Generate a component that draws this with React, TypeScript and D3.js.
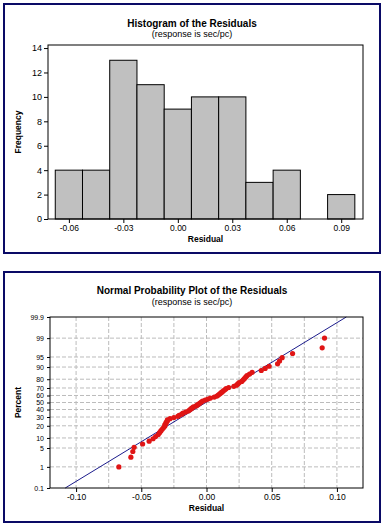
import * as d3 from "d3";
import { useEffect, useRef } from "react";

// histogram: bin midpoints and counts
const binCenters = [-0.06, -0.045, -0.03, -0.015, 0, 0.015, 0.03, 0.045, 0.06, 0.075, 0.09];
const binCounts = [4, 4, 13, 11, 9, 10, 10, 3, 4, 0, 2];
const histXTicks = [-0.06, -0.03, 0, 0.03, 0.06, 0.09];
const freqTicks = [0, 2, 4, 6, 8, 10, 12, 14];

// sorted residuals
const residuals = [
	-0.0672, -0.058, -0.0565, -0.0555,
	-0.049, -0.044, -0.041, -0.039,
	-0.037, -0.036, -0.035, -0.034, -0.033, -0.032, -0.032, -0.031, -0.031, -0.03, -0.03, -0.028, -0.025,
	-0.022, -0.021, -0.019, -0.018, -0.016, -0.014, -0.013, -0.012, -0.011, -0.01, -0.008,
	-0.007, -0.006, -0.005, -0.004, -0.003, -0.001, 0.001, 0.003, 0.006,
	0.008, 0.009, 0.01, 0.011, 0.012, 0.013, 0.014, 0.015, 0.017, 0.021,
	0.023, 0.024, 0.025, 0.027, 0.028, 0.029, 0.03, 0.031, 0.033, 0.035,
	0.042, 0.045, 0.048,
	0.0545, 0.056, 0.058, 0.066,
	0.0887, 0.0905,
];
const pctTicks = [0.1, 1, 5, 10, 20, 30, 40, 50, 60, 70, 80, 90, 95, 99, 99.9];
const resTicks = [-0.1, -0.05, 0, 0.05, 0.1];
const resGrid = [-0.1, -0.075, -0.05, -0.025, 0, 0.025, 0.05, 0.075, 0.1];

const FONT = "'Liberation Sans', Arial, sans-serif";
const NAVY = "#0a0a66";

// inverse standard normal cdf (Acklam)
function probit(p: number) {
	const a = [-39.69683028665376, 220.9460984245205, -275.9285104469687, 138.357751867269, -30.66479806614716, 2.506628277459239];
	const b = [-54.47609879822406, 161.5858368580409, -155.6989798598866, 66.80131188771972, -13.28068155288572];
	const c = [-0.007784894002430293, -0.3223964580411365, -2.400758277161838, -2.549732539343734, 4.374664141464968, 2.938163982698783];
	const d = [0.007784695709041462, 0.3224671290700398, 2.445134137142996, 3.754408661907416];
	const pl = 0.02425;
	if (p < pl) {
		const q = Math.sqrt(-2 * Math.log(p));
		return (((((c[0] * q + c[1]) * q + c[2]) * q + c[3]) * q + c[4]) * q + c[5]) / ((((d[0] * q + d[1]) * q + d[2]) * q + d[3]) * q + 1);
	}
	if (p > 1 - pl) {
		const q = Math.sqrt(-2 * Math.log(1 - p));
		return -(((((c[0] * q + c[1]) * q + c[2]) * q + c[3]) * q + c[4]) * q + c[5]) / ((((d[0] * q + d[1]) * q + d[2]) * q + d[3]) * q + 1);
	}
	const q = p - 0.5;
	const r = q * q;
	return ((((((a[0] * r + a[1]) * r + a[2]) * r + a[3]) * r + a[4]) * r + a[5]) * q) / (((((b[0] * r + b[1]) * r + b[2]) * r + b[3]) * r + b[4]) * r + 1);
}

const fmt2 = (v: number) => (Math.abs(v) < 1e-9 ? "0.00" : d3.format(".2f")(v).replace("−", "-"));

export default function App() {
	const svgRef = useRef<SVGSVGElement>(null);

	useEffect(() => {
		const svg = d3.select(svgRef.current);
		if (!svg.node()) return;
		svg.selectAll("*").remove();

		svg.append("rect").attr("width", 386).attr("height", 527).attr("fill", "#fff");

		// ---------- panel 1: histogram ----------
		svg
			.append("rect")
			.attr("x", 4)
			.attr("y", 4)
			.attr("width", 376)
			.attr("height", 249)
			.attr("fill", "#fff")
			.attr("stroke", NAVY)
			.attr("stroke-width", 2);

		svg
			.append("text")
			.attr("x", 192)
			.attr("y", 27)
			.attr("text-anchor", "middle")
			.style("font", `bold 10px ${FONT}`)
			.text("Histogram of the Residuals");
		svg
			.append("text")
			.attr("x", 192)
			.attr("y", 37)
			.attr("text-anchor", "middle")
			.style("font", `9px ${FONT}`)
			.text("(response is sec/pc)");

		const hx = d3.scaleLinear().domain([-0.0715, 0.102]).range([48, 363]);
		const hy = d3.scaleLinear().domain([0, 14.25]).range([219, 45]);
		const half = 0.0075;

		const hist = svg.append("g");
		hist
			.selectAll("rect")
			.data(binCenters.map((c, i) => ({ c, n: binCounts[i] })).filter((b) => b.n > 0))
			.join("rect")
			.attr("x", (b) => hx(b.c - half))
			.attr("y", (b) => hy(b.n))
			.attr("width", (b) => hx(b.c + half) - hx(b.c - half))
			.attr("height", (b) => hy(0) - hy(b.n))
			.attr("fill", "#c0c0c0")
			.attr("stroke", "#000")
			.attr("stroke-width", 1);

		// frame
		svg
			.append("rect")
			.attr("x", hx.range()[0])
			.attr("y", hy.range()[1])
			.attr("width", hx.range()[1] - hx.range()[0])
			.attr("height", hy.range()[0] - hy.range()[1])
			.attr("fill", "none")
			.attr("stroke", "#000");

		const hxAxis = svg
			.append("g")
			.attr("transform", `translate(0,${hy(0)})`)
			.call(d3.axisBottom(hx).tickValues(histXTicks).tickFormat((d) => fmt2(+d)).tickSize(4).tickPadding(2));
		hxAxis.select(".domain").remove();
		hxAxis.selectAll("text").style("font", `8.5px ${FONT}`).attr("fill", "#000");

		const hyAxis = svg
			.append("g")
			.attr("transform", `translate(${hx.range()[0]},0)`)
			.call(d3.axisLeft(hy).tickValues(freqTicks).tickFormat(d3.format("d")).tickSize(4).tickPadding(2));
		hyAxis.select(".domain").remove();
		hyAxis.selectAll("text").style("font", `9px ${FONT}`).attr("fill", "#000");

		svg
			.append("text")
			.attr("x", 205.5)
			.attr("y", 242)
			.attr("text-anchor", "middle")
			.style("font", `bold 8.5px ${FONT}`)
			.text("Residual");
		svg
			.append("text")
			.attr("transform", `translate(21,${(hy.range()[0] + hy.range()[1]) / 2}) rotate(-90)`)
			.attr("text-anchor", "middle")
			.style("font", `bold 8.5px ${FONT}`)
			.text("Frequency");

		// ---------- panel 2: normal probability plot ----------
		svg
			.append("rect")
			.attr("x", 4)
			.attr("y", 272)
			.attr("width", 376)
			.attr("height", 250)
			.attr("fill", "#fff")
			.attr("stroke", NAVY)
			.attr("stroke-width", 2);

		svg
			.append("text")
			.attr("x", 192)
			.attr("y", 294)
			.attr("text-anchor", "middle")
			.style("font", `bold 10px ${FONT}`)
			.text("Normal Probability Plot of the Residuals");
		svg
			.append("text")
			.attr("x", 192)
			.attr("y", 305)
			.attr("text-anchor", "middle")
			.style("font", `9px ${FONT}`)
			.text("(response is sec/pc)");

		const zMax = probit(0.999);
		const px = d3.scaleLinear().domain([-0.12, 0.12]).range([50, 363]);
		const py = d3.scaleLinear().domain([-zMax, zMax]).range([488, 317]);

		const grid = svg.append("g").attr("stroke", "#bcbcbc").attr("stroke-dasharray", "4,2");
		grid
			.selectAll("line.v")
			.data(resGrid)
			.join("line")
			.attr("class", "v")
			.attr("x1", (d) => px(d))
			.attr("x2", (d) => px(d))
			.attr("y1", py.range()[1])
			.attr("y2", py.range()[0]);
		grid
			.selectAll("line.h")
			.data(pctTicks.slice(1, -1))
			.join("line")
			.attr("class", "h")
			.attr("x1", px.range()[0])
			.attr("x2", px.range()[1])
			.attr("y1", (d) => py(probit(d / 100)))
			.attr("y2", (d) => py(probit(d / 100)));

		// fitted normal line from mean / sd of residuals
		const mu = d3.mean(residuals) ?? 0;
		const sd = d3.deviation(residuals) ?? 1;
		const lineZ = [-zMax, zMax];
		svg
			.append("path")
			.attr(
				"d",
				d3
					.line<number>()
					.x((z) => px(mu + sd * z))
					.y((z) => py(z))(lineZ),
			)
			.attr("fill", "none")
			.attr("stroke", "#1c1c8c")
			.attr("stroke-width", 1);

		const n = residuals.length;
		svg
			.append("g")
			.selectAll("circle")
			.data(residuals)
			.join("circle")
			.attr("cx", (r) => px(r))
			.attr("cy", (_r, i) => py(probit((i + 1 - 0.3) / (n + 0.4))))
			.attr("r", 2.6)
			.attr("fill", "#e01515");

		svg
			.append("rect")
			.attr("x", px.range()[0])
			.attr("y", py.range()[1])
			.attr("width", px.range()[1] - px.range()[0])
			.attr("height", py.range()[0] - py.range()[1])
			.attr("fill", "none")
			.attr("stroke", "#000");

		const pxAxis = svg
			.append("g")
			.attr("transform", `translate(0,${py.range()[0]})`)
			.call(d3.axisBottom(px).tickValues(resTicks).tickFormat((d) => fmt2(+d)).tickSize(4).tickPadding(2));
		pxAxis.select(".domain").remove();
		pxAxis.selectAll("text").style("font", `8.5px ${FONT}`).attr("fill", "#000");

		const pyAxis = svg
			.append("g")
			.attr("transform", `translate(${px.range()[0]},0)`)
			.call(
				d3
					.axisLeft(py)
					.tickValues(pctTicks.map((p) => probit(p / 100)))
					.tickFormat((_d, i) => String(pctTicks[i]))
					.tickSize(3)
					.tickPadding(3),
			);
		pyAxis.select(".domain").remove();
		pyAxis.selectAll("text").style("font", `7px ${FONT}`).attr("fill", "#000");

		svg
			.append("text")
			.attr("x", 206.5)
			.attr("y", 511)
			.attr("text-anchor", "middle")
			.style("font", `bold 8.5px ${FONT}`)
			.text("Residual");
		svg
			.append("text")
			.attr("transform", `translate(21,${(py.range()[0] + py.range()[1]) / 2}) rotate(-90)`)
			.attr("text-anchor", "middle")
			.style("font", `bold 8.5px ${FONT}`)
			.text("Percent");
	}, []);

	return (
		<svg
			ref={svgRef}
			width={386}
			height={527}
			style={{ position: "absolute", left: 0, top: 0, display: "block" }}
		/>
	);
}
